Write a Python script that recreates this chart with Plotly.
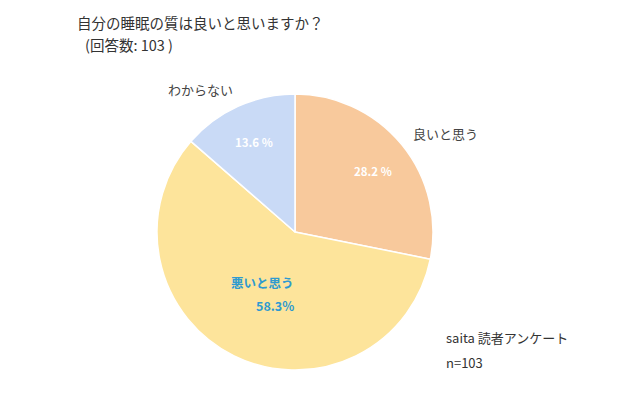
import plotly.graph_objects as go

categories = ["良いと思う", "悪いと思う", "わからない"]
counts = [29, 60, 14]
pct_labels = ["28.2 %", "58.3%", "13.6 %"]
colors = ["#F8C99C", "#FDE49B", "#C9DAF6"]

W, H = 621, 398
fig = go.Figure(go.Pie(
    labels=categories, values=counts, sort=False, direction="clockwise",
    rotation=0, textinfo="none", hoverinfo="label+percent",
    marker=dict(colors=colors, line=dict(color="white", width=1.5)),
    domain=dict(x=[157/W, 433/W], y=[(H-370)/H, (H-94)/H]),
    showlegend=False,
))

font = "Noto Sans CJK JP, Noto Sans, sans-serif"
def ann(x, y, text, size=12, color="#333333", bold=False):
    t = f"<b>{text}</b>" if bold else text
    fig.add_annotation(x=x/W, y=1-y/H, xref="paper", yref="paper", text=t,
                       showarrow=False, xanchor="left", yanchor="middle",
                       font=dict(family=font, size=size, color=color))

ann(75, 22, "自分の睡眠の質は良いと思いますか？", 14.5)
ann(83, 45, "(回答数: 103 )", 14.5)
ann(166, 89, categories[2], 13, "#444444")
ann(411, 133, categories[0], 13, "#444444")
ann(352, 171, pct_labels[0], 11.5, "white", True)
ann(233, 142, pct_labels[2], 11.5, "white", True)
ann(229, 282, categories[1], 12.5, "#2E9AD0", True)
ann(254, 305, pct_labels[1], 12.5, "#2E9AD0", True)
ann(444, 337, "saita 読者アンケート", 13, "#333333")
ann(444, 362, "n=103", 13, "#333333")

fig.update_layout(width=W, height=H, margin=dict(l=0, r=0, t=0, b=0),
                  paper_bgcolor="white", plot_bgcolor="white")
fig.write_html("out.html", config={"displayModeBar": False},
               post_script="document.body.style.margin='0';")
